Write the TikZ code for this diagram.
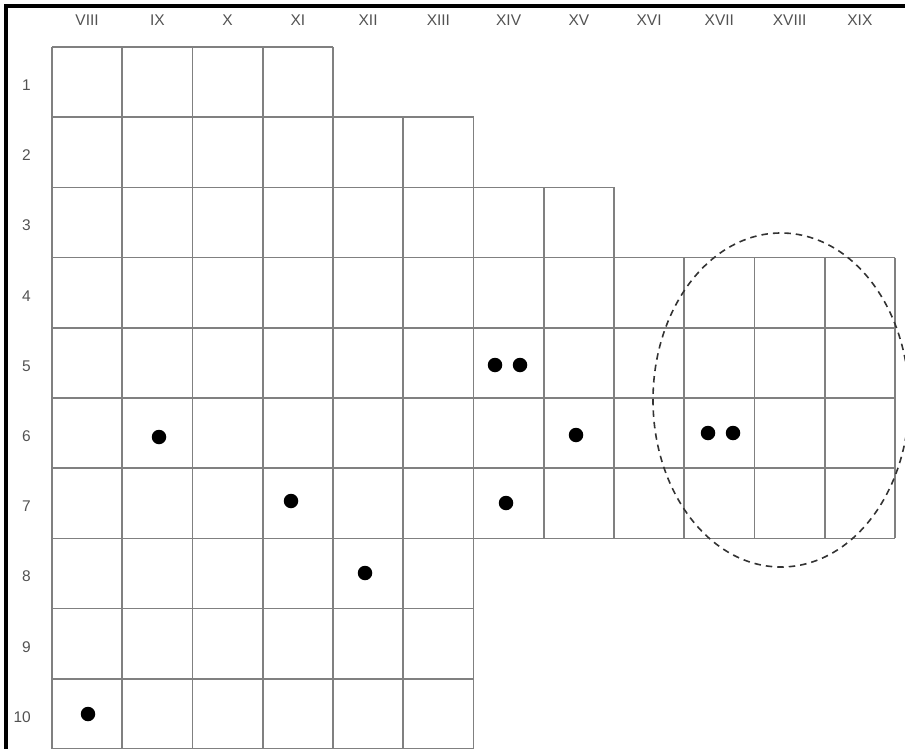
\documentclass[tikz,border=0pt]{standalone}
\usepackage{fontspec}
\setmainfont{Liberation Sans}
\definecolor{gridgray}{gray}{0.5}
\definecolor{labelgray}{gray}{0.32}
\begin{document}
\begin{tikzpicture}[x=1pt, y=-1pt,
  lbl/.style={font=\fontsize{15.5}{17}\selectfont, text=labelgray, inner sep=0pt},
  dot/.style={circle, fill=black, minimum size=14.5pt, inner sep=0pt},
  gridline/.style={draw=gridgray, line width=1.6pt}]
\useasboundingbox (0,0) rectangle (905,749);
\draw[line width=3.6pt] (6,749) -- (6,6) -- (905,6);
% grid lines: index / first and last cell edge
\foreach \k/\a/\b in {0/0/4,1/0/6,2/0/8,3/0/12,4/0/12,5/0/12,6/0/12,7/0/12,8/0/6,9/0/6,10/0/6}
  \draw[gridline] ({52+\a*70.25},{47+\k*70.2}) -- ({52+\b*70.25},{47+\k*70.2});
\foreach \j/\a/\b in {0/0/10,1/0/10,2/0/10,3/0/10,4/0/10,5/1/10,6/1/10,7/2/7,8/2/7,9/3/7,10/3/7,11/3/7,12/3/7}
  \draw[gridline] ({52+\j*70.25},{47+\a*70.2}) -- ({52+\j*70.25},{47+\b*70.2});
% column and row labels
\foreach \t [count=\c] in {VIII,IX,X,XI,XII,XIII,XIV,XV,XVI,XVII,XVIII,XIX}
  \node[lbl] (col\t) at ({52+(\c-0.5)*70.25},20) {\t};
\foreach \r in {1,...,10}
  \node[lbl, anchor=east] (row\r) at (31,{47+(\r-0.5)*70.2+3}) {\r};
% dots
\node[dot] (d5a) at (495,365) {};
\node[dot] (d5b) at (520,365) {};
\node[dot] (d6a) at (159,437) {};
\node[dot] (d6b) at (576,435) {};
\node[dot] (d6c) at (708,433) {};
\node[dot] (d6d) at (733,433) {};
\node[dot] (d7a) at (291,501) {};
\node[dot] (d7b) at (506,503) {};
\node[dot] (d8a) at (365,573) {};
\node[dot] (d10a) at (88,714) {};
% dashed region
\draw[line width=1.6pt, black!80, dash pattern=on 6.5pt off 5pt] (781,400) ellipse (128 and 167);
\end{tikzpicture}
\end{document}
